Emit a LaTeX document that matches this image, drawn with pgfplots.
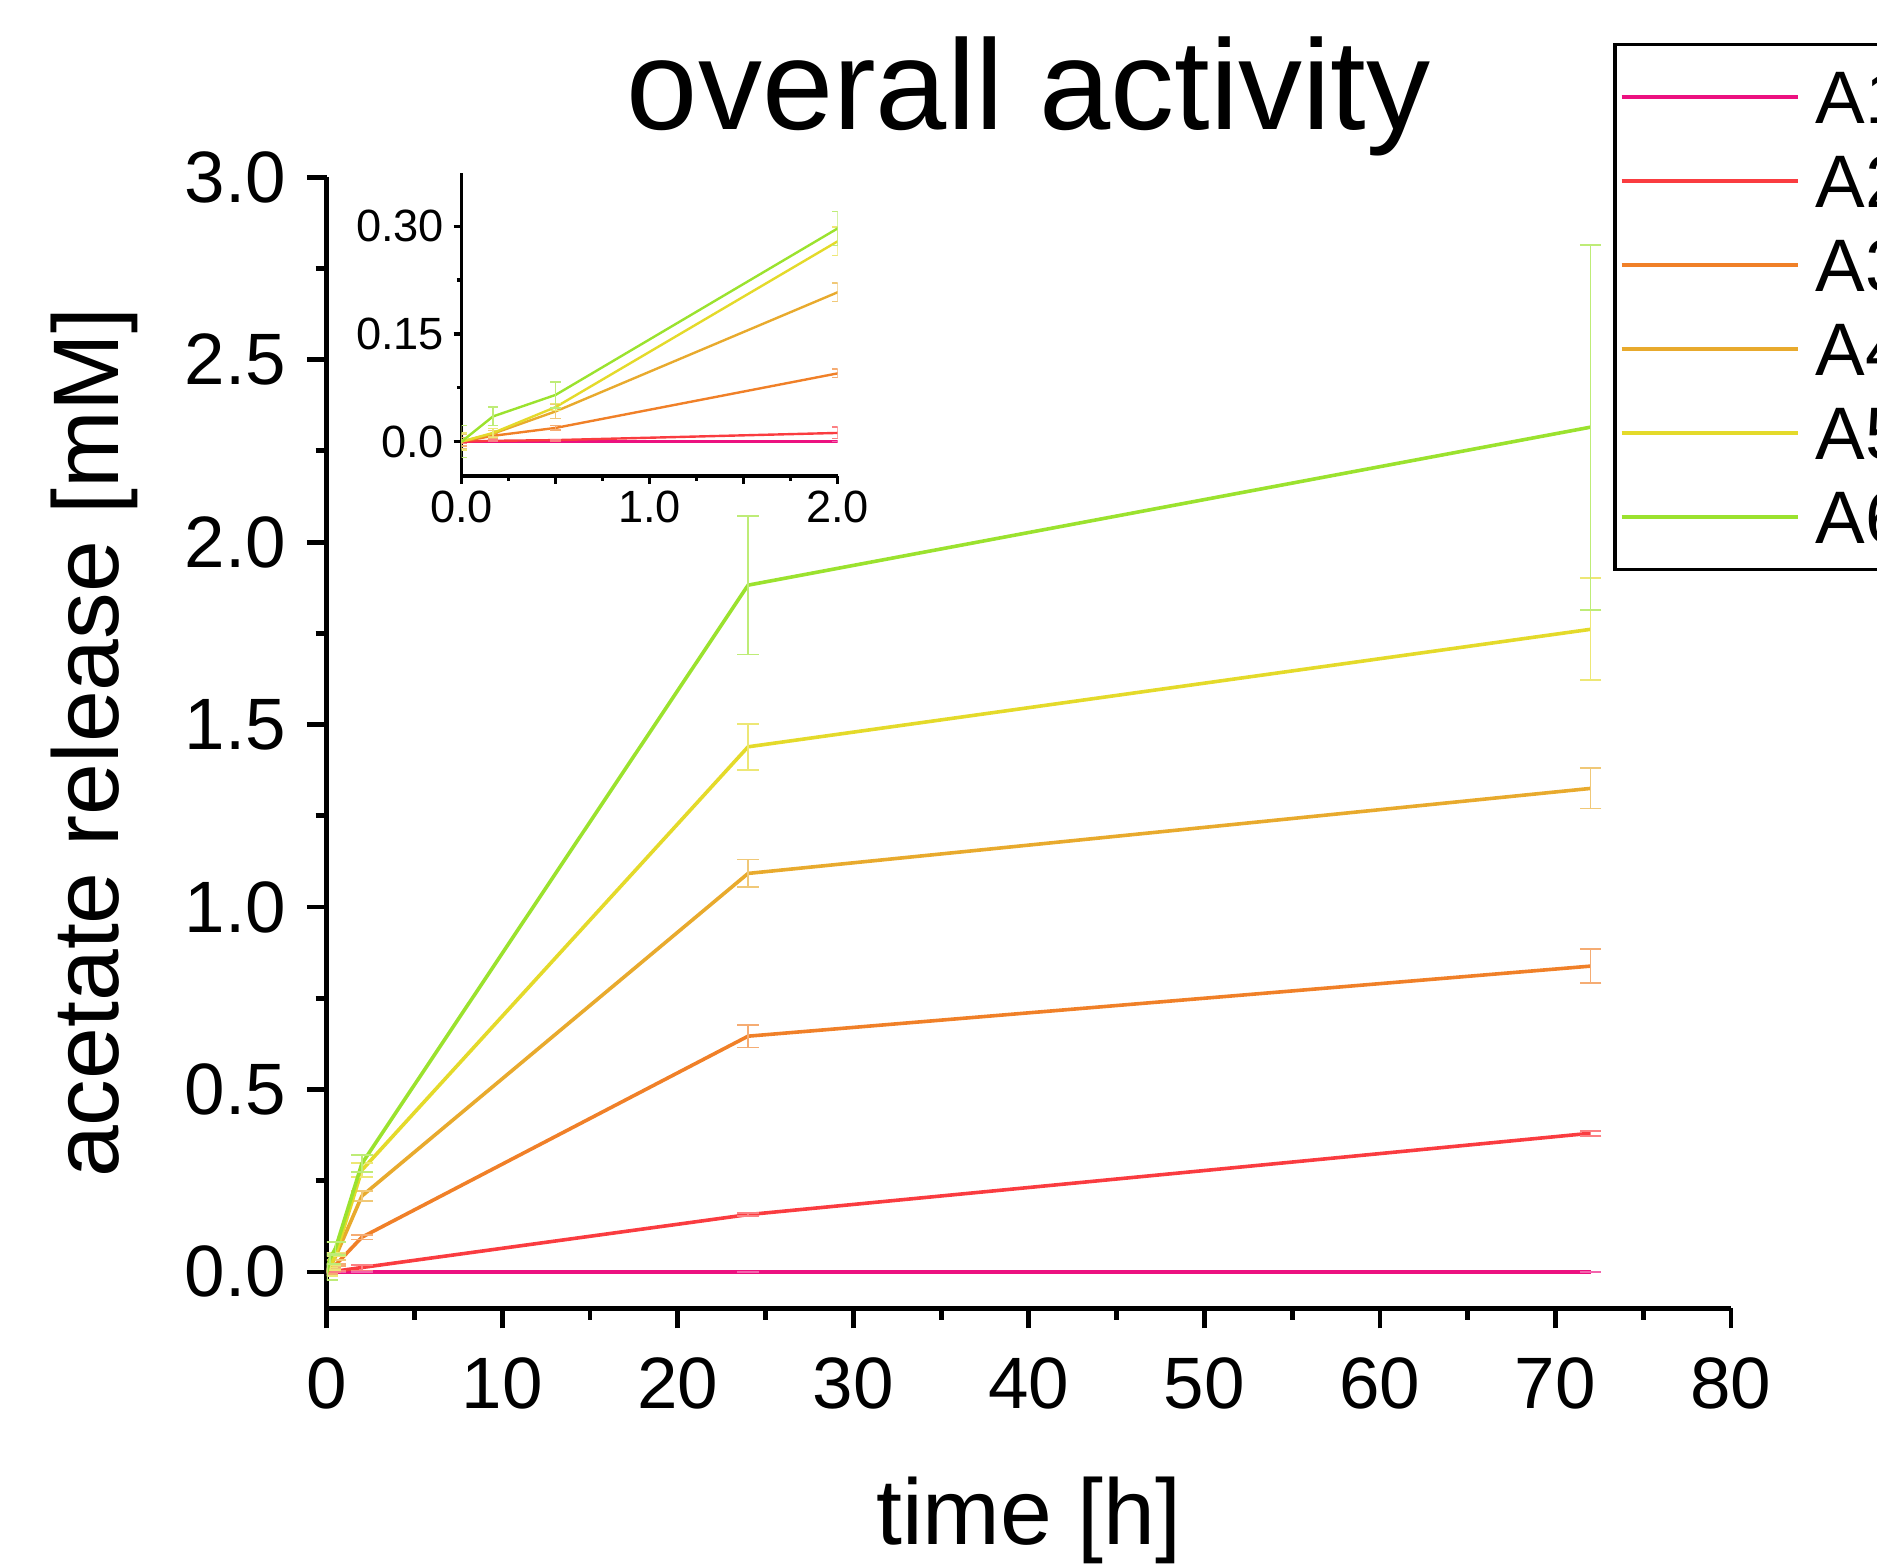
\documentclass[border=0pt]{standalone}
\usepackage{pgfplots}
\pgfplotsset{compat=1.18}
\usepackage{pgfplotstable}
\usepackage{fontspec}
\setmainfont{Liberation Sans}

\definecolor{cA}{RGB}{236,17,128}
\definecolor{cB}{RGB}{250,60,64}
\definecolor{cC}{RGB}{240,128,40}
\definecolor{cD}{RGB}{232,170,45}
\definecolor{cE}{RGB}{228,218,42}
\definecolor{cF}{RGB}{155,226,46}

\pgfplotstableread{
t y e
0 0 0
0.167 0 0
0.5 0 0
2 0 0
24 0 0
72 0 0
}\dA
\pgfplotstableread{
t y e
0 0 0.003
0.167 0.001 0.001
0.5 0.002 0.001
2 0.012 0.008
24 0.157 0.004
72 0.380 0.007
}\dB
\pgfplotstableread{
t y e
0 0 0.006
0.167 0.008 0.003
0.5 0.019 0.003
2 0.095 0.006
24 0.646 0.031
72 0.838 0.046
}\dC
\pgfplotstableread{
t y e
0 0 0.010
0.167 0.011 0.004
0.5 0.042 0.010
2 0.208 0.013
24 1.092 0.038
72 1.325 0.055
}\dD
\pgfplotstableread{
t y e
0 0 0.012
0.167 0.012 0.006
0.5 0.048 0.005
2 0.279 0.020
24 1.439 0.063
72 1.761 0.140
}\dE
\pgfplotstableread{
t y e
0 0 0.022
0.167 0.035 0.013
0.5 0.065 0.018
2 0.297 0.024
24 1.882 0.190
72 2.315 0.500
}\dF

\pgfplotsset{
  mainser/.style={color=#1, line width=0.9pt, mark=none,
    error bars/.cd, y dir=both, y explicit,
    error bar style={line width=0.45pt, #1!65!white},
    error mark options={rotate=90, mark size=2.7pt, line width=0.45pt, #1!65!white}},
  insser/.style={color=#1, line width=0.6pt, mark=none,
    error bars/.cd, y dir=both, y explicit,
    error bar style={line width=0.35pt, #1!65!white},
    error mark options={rotate=90, mark size=1.3pt, line width=0.35pt, #1!65!white}},
}

\begin{document}
\begin{tikzpicture}
\begin{axis}[
  at={(81.7pt,63.9pt)}, anchor=south west,
  scale only axis, width=351.05pt, height=282.8pt,
  xmin=0, xmax=80, ymin=-0.1, ymax=3.0,
  axis x line*=bottom, axis y line*=left,
  axis line style={line width=1.2pt, -},
  tick style={line width=1.2pt, black},
  tick align=outside,
  major tick length=5pt, minor tick length=2.8pt,
  xtick={0,10,...,80}, minor x tick num=1,
  ytick={0,0.5,1,1.5,2,2.5,3}, minor y tick num=1,
  yticklabels={0.0,0.5,1.0,1.5,2.0,2.5,3.0},
  /pgf/number format/assume math mode=true,
  ticklabel style={font=\fontsize{18.2}{20}\selectfont},
  xticklabel style={inner sep=0pt, anchor=north, yshift=-7pt},
  yticklabel style={inner sep=0pt, anchor=east, xshift=-5pt},
  xlabel={time [h]}, ylabel={acetate release [mM]},
  label style={font=\fontsize{23.3}{26}\selectfont},
  xlabel style={at={(axis description cs:0.5,-0.2083)}, anchor=base},
  ylabel style={at={(axis description cs:-0.1485,0.5)}, anchor=base},
  title={overall activity},
  title style={at={(axis description cs:0.5,1.0212)}, anchor=base, font=\fontsize{32}{36}\selectfont},
  legend style={at={(axis description cs:0.9163,1.1189)}, anchor=north west,
    draw=black, line width=0.8pt, inner xsep=1.2pt, inner ysep=2.6pt,
    font=\fontsize{18.6}{20}\selectfont,
    nodes={inner xsep=2pt, inner ysep=3.85pt, text height=13.3pt, text depth=0pt},
    column sep=2pt, row sep=0pt},
  legend cell align=left,
  legend image code/.code={\draw[#1, line width=0.9pt] (0pt,0pt) -- (44pt,0pt);},
]
\addplot[mainser=cA] table[x=t, y=y, y error=e] {\dA};
\addplot[mainser=cB] table[x=t, y=y, y error=e] {\dB};
\addplot[mainser=cC] table[x=t, y=y, y error=e] {\dC};
\addplot[mainser=cD] table[x=t, y=y, y error=e] {\dD};
\addplot[mainser=cE] table[x=t, y=y, y error=e] {\dE};
\addplot[mainser=cF] table[x=t, y=y, y error=e] {\dF};
\legend{A1,A2,A3,A4,A5,A6}
\end{axis}

\begin{axis}[
  at={(115.4pt,272pt)}, anchor=south west,
  scale only axis, width=94pt, height=75.7pt,
  xmin=0, xmax=2, ymin=-0.048, ymax=0.374,
  axis x line*=bottom, axis y line*=left,
  axis line style={line width=0.85pt, -},
  tick style={line width=0.85pt, black},
  tick align=outside,
  major tick length=2pt, minor tick length=1.2pt,
  xtick={0,0.5,1,1.5,2}, xticklabels={0.0,,1.0,,2.0}, minor x tick num=1,
  ytick={0,0.15,0.3}, yticklabels={0.0,0.15,0.30}, minor y tick num=1,
  /pgf/number format/assume math mode=true,
  ticklabel style={font=\fontsize{11.3}{13}\selectfont},
  xticklabel style={inner sep=0pt, anchor=north, yshift=-1.5pt},
  yticklabel style={inner sep=0pt, anchor=east, xshift=-2.2pt},
]
\addplot[insser=cA] table[x=t, y=y, y error=e] {\dA};
\addplot[insser=cB] table[x=t, y=y, y error=e] {\dB};
\addplot[insser=cC] table[x=t, y=y, y error=e] {\dC};
\addplot[insser=cD] table[x=t, y=y, y error=e] {\dD};
\addplot[insser=cE] table[x=t, y=y, y error=e] {\dE};
\addplot[insser=cF] table[x=t, y=y, y error=e] {\dF};
\end{axis}
\pgfresetboundingbox
\path[use as bounding box] (0pt,0pt) rectangle (469.25pt,391pt);
\end{tikzpicture}
\end{document}
